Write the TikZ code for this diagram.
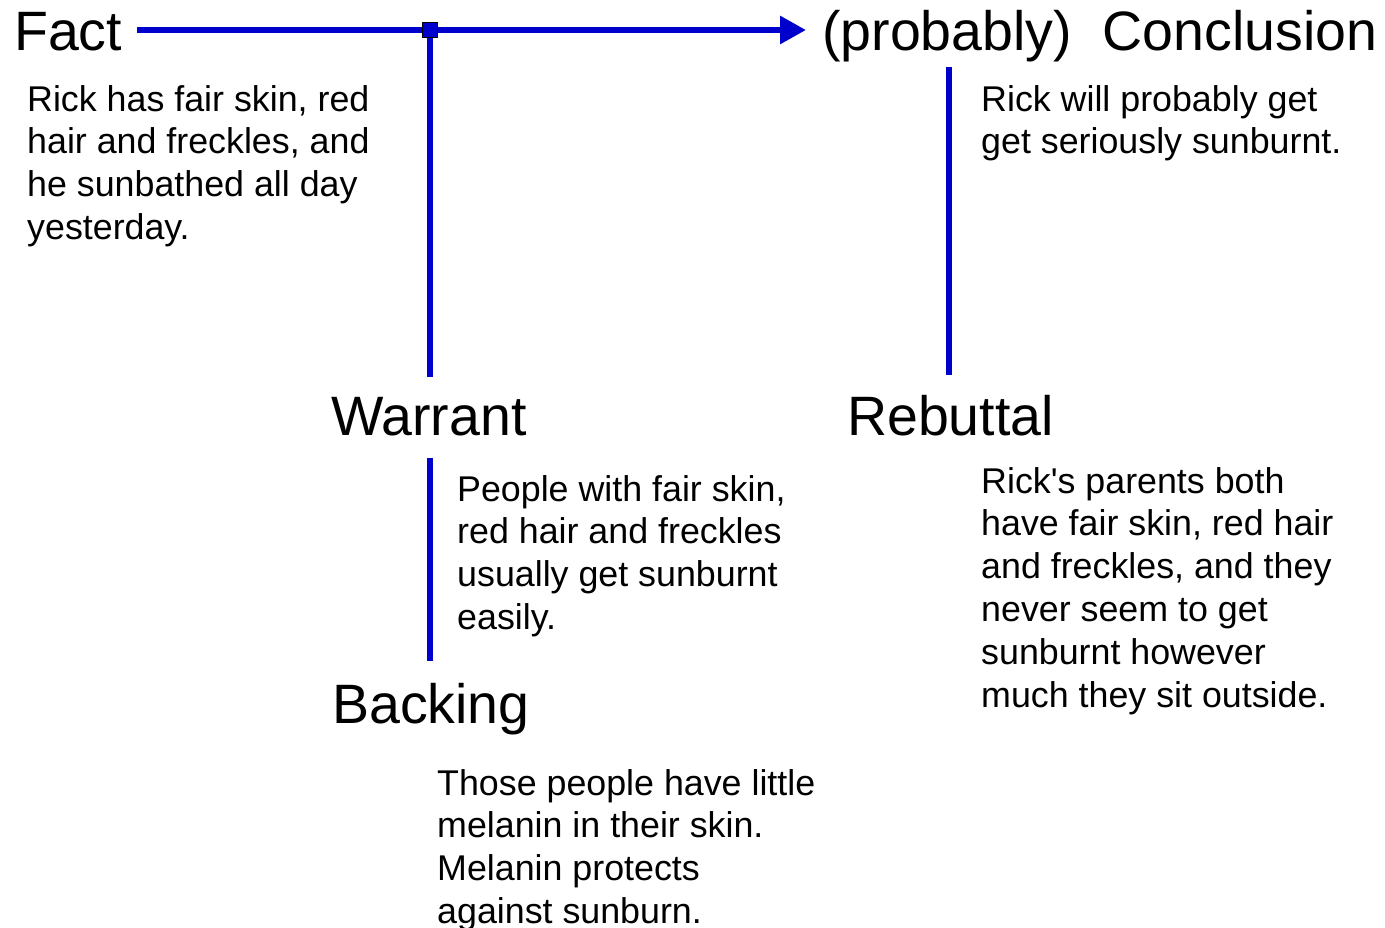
\documentclass[tikz,border=0pt]{standalone}
\usepackage{fontspec}
\setmainfont{Liberation Sans}[Ligatures=TeXOff]
\usetikzlibrary{arrows.meta,calc}
\definecolor{lineblue}{RGB}{0,0,204}
\newcommand{\textlines}[1]{\begin{tabular}[t]{@{}l@{}}#1\end{tabular}}
\begin{document}
\begin{tikzpicture}[x=1pt,y=-1pt,
  head/.style={anchor=base west, inner sep=0pt, font=\fontsize{55.5}{65}\selectfont},
  body/.style={anchor=base west, inner sep=0pt, font=\fontsize{35.8}{42.8}\selectfont},
  link/.style={draw=lineblue, line width=6pt},
  joint/.style={draw=black, fill=lineblue, line width=1.5pt, minimum size=15pt, inner sep=0pt}
]
\useasboundingbox (0,0) rectangle (1385,927);
\fill[white] (0,0) rectangle (1385,927);

% headings
\node[head] (fact) at (14,50) {Fact};
\node[head] (conc) at (822,50) {(probably)~~Conclusion};
\node[head] (warrant) at (331,435) {Warrant};
\node[head] (rebuttal) at (847,435) {Rebuttal};
\node[head] (backing) at (332,723) {Backing};

% body texts
\node[body] (facttext) at (27,111) {\textlines{Rick has fair skin, red\\hair and freckles, and\\he sunbathed all day\\yesterday.}};
\node[body] (conctext) at (981,111) {\textlines{Rick will probably get\\get seriously sunburnt.}};
\node[body] (warranttext) at (457,501) {\textlines{People with fair skin,\\red hair and freckles\\usually get sunburnt\\easily.}};
\node[body] (rebuttaltext) at (981,493) {\textlines{Rick's parents both\\have fair skin, red hair\\and freckles, and they\\never seem to get\\sunburnt however\\much they sit outside.}};
\node[body] (backingtext) at (437,795) {\textlines{Those people have little\\melanin in their skin.\\Melanin protects\\against sunburn.}};

% connectors
\coordinate (j) at (430,30);
\coordinate (rtop) at (949,67);
\draw[link,-{Triangle[length=26pt,width=27pt]}] ($(fact.east |- j)+(15,0)$) -- (j) -- ($(conc.west |- j)+(-16,0)$);
\draw[link] (j) -- ($(warrant.north -| j)+(0,-20)$);
\draw[link] ($(rebuttal.north -| rtop)+(0,-20)$) -- (rtop);
\draw[link] ($(warrant.south -| j)+(0,22)$) -- ($(backing.north -| j)+(0,-22)$);
\node[joint] (jbox) at (j) {};
\end{tikzpicture}
\end{document}
